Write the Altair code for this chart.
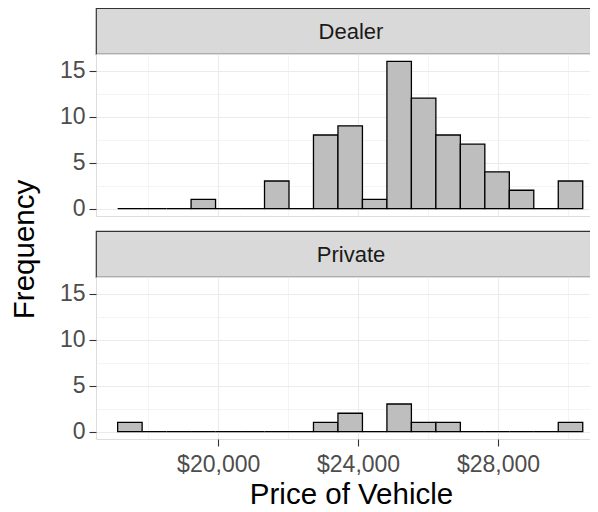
import altair as alt
import pandas as pd

# histogram bins (left / right edges, dollars)
bin_start = [17125, 17825, 18525, 19225, 19925, 20625, 21325, 22025, 22725, 23425,
             24125, 24825, 25525, 26225, 26925, 27625, 28325, 29025, 29725]
bin_end = [17825, 18525, 19225, 19925, 20625, 21325, 22025, 22725, 23425, 24125,
           24825, 25525, 26225, 26925, 27625, 28325, 29025, 29725, 30425]
dealer_counts = [0, 0, 0, 1, 0, 0, 3, 0, 8, 9, 1, 16, 12, 8, 7, 4, 2, 0, 3]
private_counts = [1, 0, 0, 0, 0, 0, 0, 0, 1, 2, 0, 3, 1, 1, 0, 0, 0, 0, 1]
facet_labels = ["Dealer", "Private"]

x_grid_values = [18000, 20000, 22000, 24000, 26000, 28000, 30000]
y_grid_values = [0, 2.5, 5, 7.5, 10, 12.5, 15]
x_domain = [16506, 31090]
y_domain = [-0.8, 16.8]

FONT = "Liberation Sans"
W = 510
STRIP_H = 46
PANEL_H = 162
GAP = 15


def cond(test, a, b):
    return {"condition": {"test": test, "value": a}, "value": b}


def strip(label):
    df = pd.DataFrame({"label": [label]})
    return alt.Chart(df).mark_text(
        font=FONT, fontSize=22, color="#1A1A1A", align="center", baseline="middle"
    ).encode(
        x=alt.value(W / 2), y=alt.value(STRIP_H / 2 + 1), text="label:N"
    ).properties(
        width=W, height=STRIP_H,
        view=alt.ViewBackground(fill="#D9D9D9", stroke="#333333", strokeWidth=1.2),
    )


def spacer():
    df = pd.DataFrame({"v": [0]})
    return alt.Chart(df).mark_point(opacity=0).encode(
        x=alt.value(0), y=alt.value(0)
    ).properties(width=W, height=GAP, view=alt.ViewBackground(strokeOpacity=0))


def panel(counts, bottom):
    df = pd.DataFrame({"start": bin_start, "end": bin_end, "count": counts})
    x_major = "datum.value % 4000 === 0"
    y_major = "datum.value % 5 === 0"
    if bottom:
        x_axis = alt.Axis(
            values=x_grid_values, grid=True, gridColor="#EBEBEB",
            gridWidth=cond(x_major, 1.1, 0.55), domain=False,
            ticks=True, tickColor="#333333", tickSize=7, tickWidth=1.1,
            tickOpacity=cond(x_major, 1, 0),
            labelExpr="datum.value % 4000 === 0 ? '$' + format(datum.value, ',') : ''",
            labelFont=FONT, labelFontSize=23, labelColor="#4D4D4D", labelPadding=7,
            title="Price of Vehicle", titleFont=FONT, titleFontSize=29.5,
            titleFontWeight="normal", titleColor="#000000", titlePadding=4,
        )
        y_title = dict(title="Frequency", titleFont=FONT, titleFontSize=29.5,
                       titleFontWeight="normal", titleColor="#000000",
                       titlePadding=20, titleY=-28)
    else:
        x_axis = alt.Axis(
            values=x_grid_values, grid=True, gridColor="#EBEBEB",
            gridWidth=cond(x_major, 1.1, 0.55), domain=False,
            ticks=False, labels=False, title=None,
        )
        y_title = dict(title=None)
    y_axis = alt.Axis(
        values=y_grid_values, grid=True, gridColor="#EBEBEB",
        gridWidth=cond(y_major, 1.1, 0.55), domain=False,
        ticks=True, tickColor="#333333", tickSize=7, tickWidth=1.1,
        tickOpacity=cond(y_major, 1, 0),
        labelExpr="datum.value % 5 === 0 ? datum.label : ''",
        labelFont=FONT, labelFontSize=23, labelColor="#4D4D4D", labelPadding=4,
        **y_title,
    )
    return alt.Chart(df).mark_bar(
        fill="#BEBEBE", stroke="#000000", strokeWidth=1.3
    ).encode(
        x=alt.X("start:Q", scale=alt.Scale(domain=x_domain, nice=False, zero=False), axis=x_axis),
        x2="end:Q",
        y=alt.Y("count:Q", scale=alt.Scale(domain=y_domain, nice=False, zero=False), axis=y_axis),
        y2=alt.datum(0),
    ).properties(width=W, height=PANEL_H)


chart = alt.vconcat(
    strip(facet_labels[0]), panel(dealer_counts, False), spacer(),
    strip(facet_labels[1]), panel(private_counts, True),
    spacing=0, bounds="flush",
).properties(
    padding={"left": 0, "top": -1, "right": -17, "bottom": 0}
).configure_view(
    stroke="#333333", strokeWidth=1.2
).configure(background="white")

chart.save("out.html", embed_options={"renderer": "svg", "actions": False})
